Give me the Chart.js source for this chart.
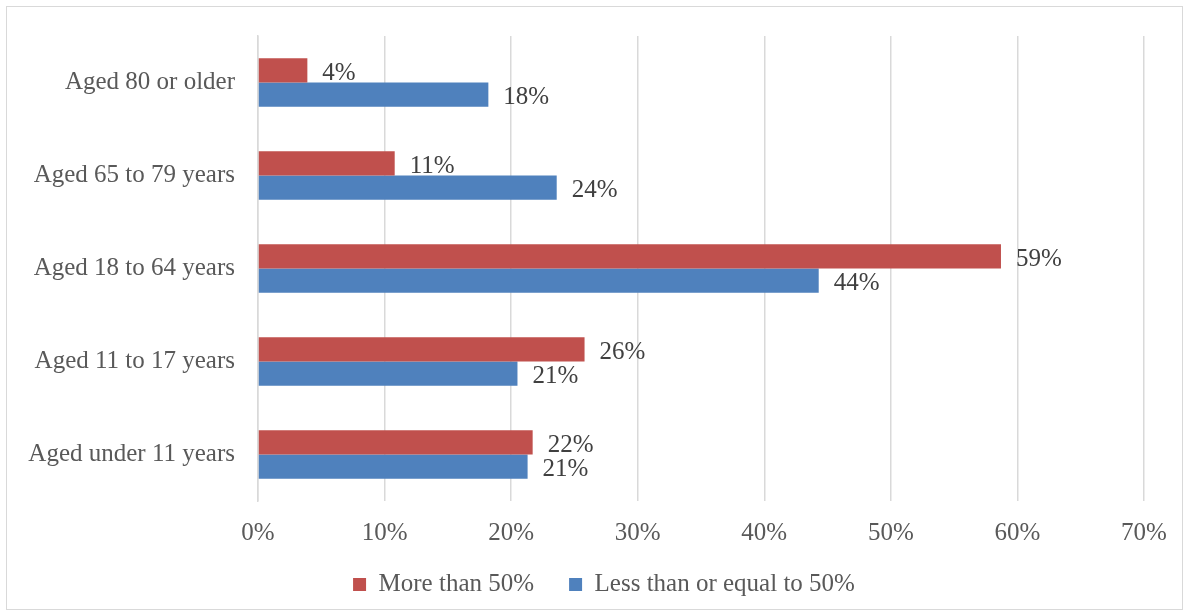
<!DOCTYPE html>
<html>
<head>
<meta charset="utf-8">
<script src="https://cdn.jsdelivr.net/npm/chart.js@4.4.1/dist/chart.umd.min.js"></script>
<style>
  html, body { margin: 0; padding: 0; background: #ffffff; }
  #wrap { position: relative; width: 1189px; height: 615px; }
  #frame { position: absolute; left: 6px; top: 6px; width: 1175px; height: 602px;
           border: 1.5px solid #d9d9d9; pointer-events: none; }
  canvas { position: absolute; left: 0; top: 0; }
</style>
</head>
<body>
<div id="wrap">
  <canvas id="chart" width="1189" height="615"></canvas>
  <div id="frame"></div>
</div>
<script>
// Age groups, listed top to bottom
const categories = ['Aged 80 or older', 'Aged 65 to 79 years', 'Aged 18 to 64 years', 'Aged 11 to 17 years', 'Aged under 11 years'];
// Share of people (%) in each group
const moreThan50 = [3.9, 10.8, 58.7, 25.8, 21.7];
const lessOrEqual50 = [18.2, 23.6, 44.3, 20.5, 21.3];
const seriesNames = ['More than 50%', 'Less than or equal to 50%'];
const xTicks = [0, 10, 20, 30, 40, 50, 60, 70];

const FONT = '"Liberation Serif", "Times New Roman", serif';

// Writes each bar's percentage just past its end
const valueLabels = {
  id: 'valueLabels',
  afterDatasetsDraw(chart) {
    const ctx = chart.ctx;
    ctx.save();
    ctx.font = '25px ' + FONT;
    ctx.fillStyle = '#404040';
    ctx.textAlign = 'left';
    ctx.textBaseline = 'middle';
    chart.data.datasets.forEach((ds, di) => {
      chart.getDatasetMeta(di).data.forEach((bar, i) => {
        ctx.fillText(Math.round(ds.data[i]) + '%', bar.x + 15, bar.y + 3);
      });
    });
    ctx.restore();
  }
};

// Places the legend a little right of the canvas middle and raises it under the axis labels
const legendShift = {
  id: 'legendShift',
  afterLayout(chart) {
    const lg = chart.legend;
    if (lg) {
      lg.left += 32;
      lg.right += 32;
      lg.top -= 14;
      lg.bottom -= 14;
    }
  }
};

new Chart(document.getElementById('chart'), {
  type: 'bar',
  data: {
    labels: categories,
    datasets: [
      { label: seriesNames[0], data: moreThan50, backgroundColor: '#C0504D' },
      { label: seriesNames[1], data: lessOrEqual50, backgroundColor: '#4F81BD' }
    ]
  },
  options: {
    indexAxis: 'y',
    responsive: false,
    animation: false,
    devicePixelRatio: 1,
    categoryPercentage: 0.52,
    barPercentage: 1,
    layout: { padding: { top: 36, left: 0, right: 45, bottom: -6 } },
    scales: {
      x: {
        min: 0,
        max: 70,
        afterBuildTicks(scale) { scale.ticks = xTicks.map(v => ({ value: v })); },
        afterFit(scale) { scale.height = 50; },
        grid: { color: '#d9d9d9', lineWidth: 1.5, drawTicks: false },
        border: { display: false },
        ticks: {
          padding: 17,
          color: '#595959',
          font: { family: FONT, size: 25 },
          callback: v => v + '%'
        }
      },
      y: {
        afterFit(scale) { scale.width = 258; },
        grid: { display: false },
        border: { display: true, color: '#d9d9d9', width: 1.5 },
        ticks: {
          padding: 15,
          color: '#595959',
          font: { family: FONT, size: 25 }
        }
      }
    },
    plugins: {
      legend: {
        position: 'bottom',
        labels: {
          boxWidth: 13,
          boxHeight: 13,
          padding: 35,
          color: '#595959',
          font: { family: FONT, size: 25 }
        }
      },
      tooltip: { enabled: false }
    }
  },
  plugins: [valueLabels, legendShift]
});
</script>
</body>
</html>
